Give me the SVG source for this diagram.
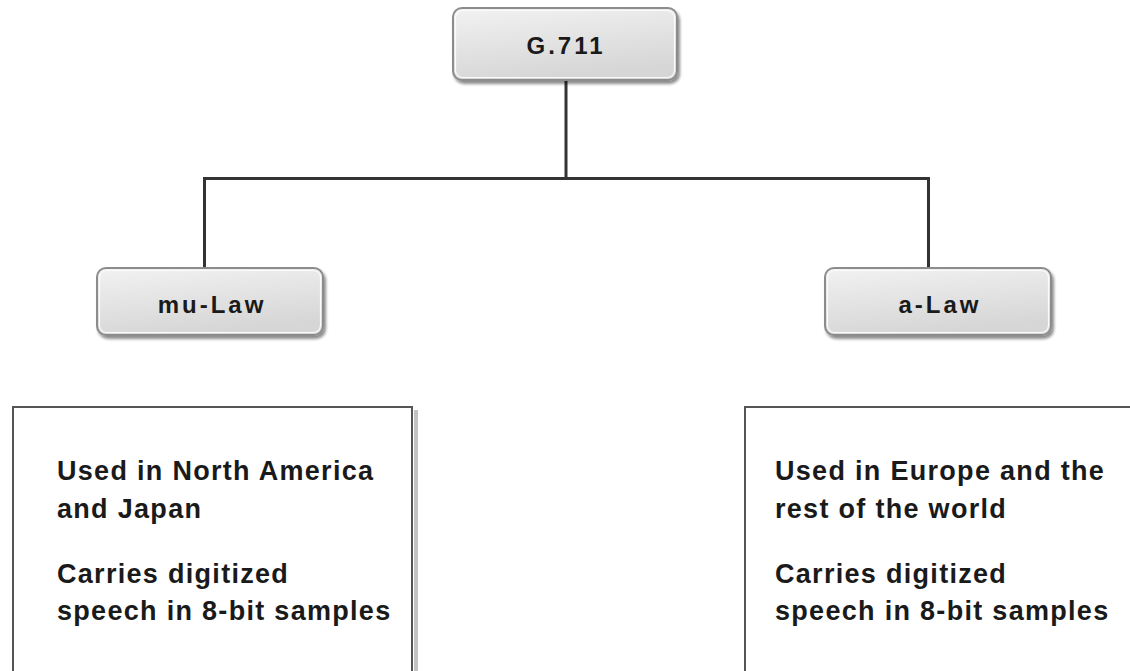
<svg xmlns="http://www.w3.org/2000/svg" width="1130" height="671" viewBox="0 0 1130 671">
<defs>
<linearGradient id="boxg" x1="0" y1="0" x2="0.3" y2="1">
<stop offset="0" stop-color="#f2f2f2"/>
<stop offset="1" stop-color="#d6d6d6"/>
</linearGradient>
<filter id="sh" x="-10%" y="-10%" width="130%" height="140%">
<feGaussianBlur in="SourceAlpha" stdDeviation="1.5"/>
<feOffset dx="2" dy="3"/>
<feComponentTransfer><feFuncA type="linear" slope="0.45"/></feComponentTransfer>
<feMerge><feMergeNode/><feMergeNode in="SourceGraphic"/></feMerge>
</filter>
</defs>
<style>
.box{fill:url(#boxg);stroke:#8c8c8c;stroke-width:2}
.inner{fill:none;stroke:#fbfbfb;stroke-width:1.2}
.lbl{font-family:"Liberation Sans",Arial,sans-serif;font-weight:bold;font-size:24px;letter-spacing:3px;fill:#1a1a1a;text-anchor:middle}
.txt{font-family:"Liberation Sans",Arial,sans-serif;font-weight:bold;font-size:27px;letter-spacing:1.3px;fill:#1a1a1a}
.panel{fill:#fff;stroke:#555;stroke-width:2}
.conn{fill:none;stroke:#333;stroke-width:3}
</style>
<rect width="1130" height="671" fill="#fff"/>
<g id="connectors">
<path class="conn" d="M566,80 V178.5"/>
<path class="conn" d="M204.5,268 V178.5 H928.5 V268"/>
</g>
<g id="g711">
<rect class="box" x="453" y="8" width="224" height="72" rx="9" filter="url(#sh)"/>
<rect class="inner" x="455.5" y="10.5" width="219" height="67" rx="7"/>
<text class="lbl" x="566" y="54">G.711</text>
</g>
<g id="mulaw">
<rect class="box" x="97" y="268" width="226" height="67" rx="9" filter="url(#sh)"/>
<rect class="inner" x="99.5" y="270.5" width="221" height="62" rx="7"/>
<text class="lbl" x="212" y="313">mu-Law</text>
</g>
<g id="alaw">
<rect class="box" x="825" y="268" width="226" height="67" rx="9" filter="url(#sh)"/>
<rect class="inner" x="827.5" y="270.5" width="221" height="62" rx="7"/>
<text class="lbl" x="940" y="313">a-Law</text>
</g>
<g id="mulaw-notes">
<rect x="414" y="410" width="4" height="270" fill="#c4c4c4"/>
<rect class="panel" x="13" y="407" width="399" height="280"/>
<text class="txt" x="57" y="480">Used in North America</text>
<text class="txt" x="57" y="518">and Japan</text>
<text class="txt" x="57" y="583">Carries digitized</text>
<text class="txt" x="57" y="620">speech in 8-bit samples</text>
</g>
<g id="alaw-notes">
<rect class="panel" x="745" y="407" width="400" height="280"/>
<text class="txt" x="775" y="480">Used in Europe and the</text>
<text class="txt" x="775" y="518">rest of the world</text>
<text class="txt" x="775" y="583">Carries digitized</text>
<text class="txt" x="775" y="620">speech in 8-bit samples</text>
</g>
</svg>
